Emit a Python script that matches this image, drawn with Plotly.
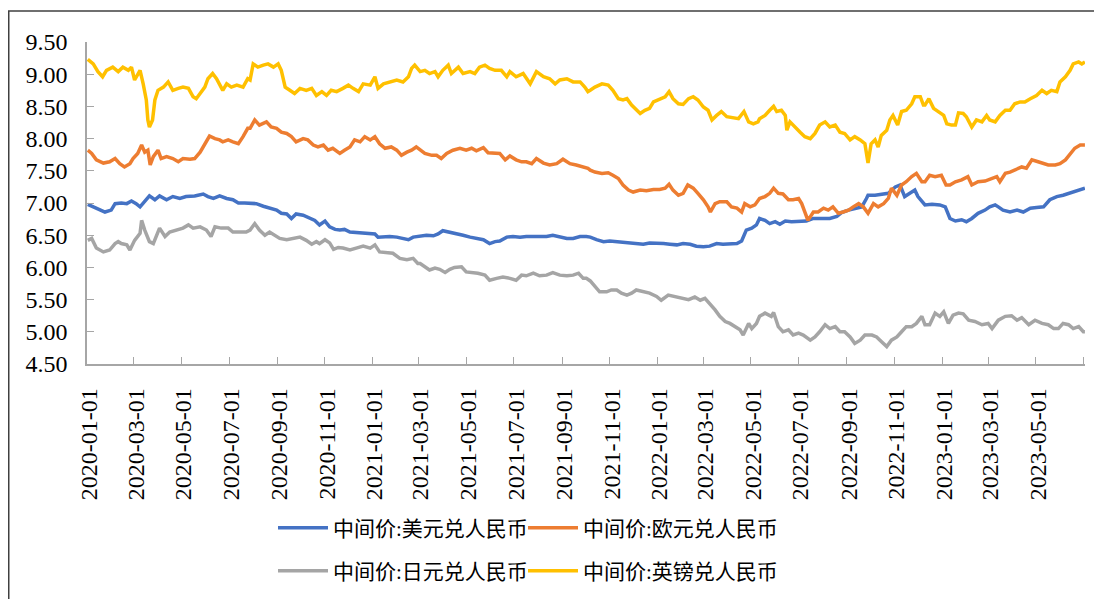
import pandas as pd
import plotly.graph_objects as go

# Day offsets are counted from 2020-01-01
BASE_DATE = "2020-01-01"

usd_days = [1, 8, 16, 23, 31, 36, 44, 51, 57, 63, 68, 74, 80, 87, 93, 102, 110, 119, 127, 138,
            149, 155, 162, 170, 179, 187, 194, 202,
            209, 217, 226, 234, 243, 249, 256, 262, 268, 277, 286, 292, 298, 305, 311, 318, 324, 330,
            337, 345, 354, 363, 369, 373, 380, 388, 397, 405, 412, 418, 424,
            427, 435, 444, 450, 456, 465, 474, 482, 491, 499, 508, 516, 523, 529, 538, 546, 555, 563,
            572, 580, 589, 597, 606, 615, 623, 632, 640,
            645, 653, 662, 670, 679, 687, 696, 704, 713, 721, 730, 739, 747, 756, 764, 773, 781, 790,
            798, 807, 815, 824, 833, 839, 845, 852, 858,
            862, 869, 875, 882, 888, 895, 903, 914, 922, 931, 942, 952, 961, 967, 976, 984, 993, 999,
            1001, 1010, 1018, 1027, 1036, 1042, 1048, 1055, 1061, 1065, 1072,
            1074, 1083, 1093, 1100, 1106, 1113, 1121, 1127, 1134, 1142, 1151, 1157, 1164, 1168, 1174,
            1183, 1192, 1200, 1209, 1217, 1226, 1234, 1243, 1251, 1258, 1264, 1271, 1279]
usd_vals = [6.98, 6.94, 6.89, 6.86, 6.89, 6.99, 7.00, 6.99, 7.03, 6.99, 6.94, 7.02, 7.11, 7.05, 7.11,
            7.05, 7.10, 7.07, 7.10, 7.11, 7.14, 7.10, 7.07, 7.11, 7.07, 7.05, 7.00, 7.00,
            7.00, 6.99, 6.95, 6.92, 6.89, 6.84, 6.83, 6.76, 6.83, 6.81, 6.76, 6.73, 6.66, 6.72, 6.63,
            6.59, 6.58, 6.59, 6.55, 6.54, 6.54, 6.53, 6.52, 6.47, 6.48, 6.48, 6.47, 6.45, 6.43, 6.47, 6.48,
            6.48, 6.50, 6.49, 6.52, 6.57, 6.55, 6.52, 6.50, 6.47, 6.45, 6.43, 6.37, 6.40, 6.41, 6.47,
            6.48, 6.47, 6.48, 6.48, 6.49, 6.48, 6.50, 6.48, 6.45, 6.45, 6.48, 6.48,
            6.47, 6.43, 6.40, 6.41, 6.40, 6.40, 6.38, 6.37, 6.36, 6.38, 6.38, 6.37, 6.36, 6.35, 6.37,
            6.36, 6.33, 6.32, 6.33, 6.37, 6.36, 6.37, 6.37, 6.41, 6.58, 6.61, 6.66,
            6.76, 6.73, 6.68, 6.71, 6.67, 6.72, 6.71, 6.71, 6.72, 6.76, 6.76, 6.76, 6.79, 6.85, 6.89,
            6.92, 6.94, 7.07, 7.12, 7.12, 7.13, 7.15, 7.25, 7.28, 7.10, 7.15, 7.20, 7.10, 6.99,
            6.97, 6.98, 6.97, 6.94, 6.76, 6.72, 6.74, 6.71, 6.76, 6.84, 6.89, 6.94, 6.97, 6.94, 6.89,
            6.86, 6.89, 6.86, 6.92, 6.93, 6.94, 7.05, 7.10, 7.12, 7.15, 7.17, 7.21, 7.23]

eur_days = [1, 6, 12, 21, 29, 36, 42, 48, 55, 59, 65, 70, 74, 78, 81, 85, 91, 95, 102, 110,
            117, 123, 132, 138, 145, 151, 157, 164, 170, 174, 181, 187, 194, 200, 206,
            209, 215, 221, 230, 236, 243, 249, 256, 262, 268, 277, 283, 290, 296, 303, 309, 315, 324,
            330, 337, 343, 350, 356, 363, 369, 375, 382, 390, 397, 403, 410, 416, 422,
            427, 433, 442, 448, 454, 461, 469, 478, 486, 493, 499, 508, 514, 521, 529, 536, 542, 550,
            557, 563, 570, 576, 585, 593, 602, 610, 619, 627, 636, 642,
            645, 651, 660, 668, 674, 681, 687, 694, 700, 709, 717, 726, 734, 741, 746, 751, 758, 764,
            770, 777, 783, 790, 796, 799, 805, 811, 820, 826, 833, 839, 843, 850, 856,
            862, 869, 875, 880, 886, 892, 899, 905, 912, 916, 920, 924, 931, 937, 944, 950, 956, 963,
            969, 976, 982, 989, 995, 1001, 1008, 1014, 1021, 1027, 1031, 1038, 1044, 1050, 1057, 1063, 1070,
            1074, 1080, 1087, 1095, 1101, 1106, 1113, 1121, 1129, 1134, 1142, 1151, 1160, 1166, 1170,
            1177, 1183, 1189, 1198, 1204, 1211, 1219, 1226, 1232, 1241, 1247, 1254, 1260, 1266, 1273, 1279]
eur_vals = [7.82, 7.77, 7.67, 7.62, 7.64, 7.69, 7.61, 7.56, 7.61, 7.69, 7.77, 7.90, 7.79, 7.82, 7.59,
            7.72, 7.82, 7.69, 7.72, 7.69, 7.64, 7.69, 7.68, 7.69, 7.79, 7.92, 8.04, 8.00, 7.98, 7.95,
            7.98, 7.95, 7.92, 8.03, 8.16,
            8.16, 8.29, 8.21, 8.26, 8.18, 8.16, 8.10, 8.08, 8.03, 7.95, 8.00, 7.98, 7.90, 7.87, 7.90,
            7.82, 7.85, 7.77, 7.82, 7.87, 7.98, 7.95, 8.03, 7.98, 8.03, 7.92, 7.85, 7.87, 7.82, 7.74,
            7.79, 7.82, 7.87,
            7.82, 7.77, 7.74, 7.74, 7.69, 7.77, 7.82, 7.85, 7.82, 7.85, 7.81, 7.86, 7.78, 7.77, 7.77,
            7.67, 7.73, 7.67, 7.64, 7.64, 7.61, 7.69, 7.62, 7.59, 7.61, 7.68, 7.61, 7.59, 7.56, 7.54,
            7.51, 7.48, 7.46, 7.47, 7.43, 7.38, 7.28, 7.20, 7.17, 7.20, 7.19, 7.21, 7.21, 7.23, 7.29,
            7.20, 7.12, 7.15, 7.28, 7.23, 7.15, 7.05, 6.94, 6.86, 6.99, 7.02, 7.02, 6.94, 6.92, 6.86,
            6.99, 6.94, 6.97,
            7.07, 7.10, 7.15, 7.23, 7.15, 7.14, 7.05, 7.05, 7.07, 6.99, 6.84, 6.73, 6.86, 6.86, 6.92,
            6.89, 6.94, 6.84, 6.86, 6.89, 6.94, 6.99, 6.94, 6.84, 6.99, 6.94, 6.99, 7.07, 7.23, 7.12,
            7.28, 7.33, 7.41, 7.46, 7.33,
            7.33, 7.43, 7.41, 7.43, 7.28, 7.28, 7.33, 7.36, 7.41, 7.28, 7.33, 7.34, 7.38, 7.41, 7.33,
            7.46, 7.48, 7.51, 7.56, 7.54, 7.67, 7.64, 7.61, 7.59, 7.59, 7.61, 7.67, 7.77, 7.85, 7.90, 7.90]

jpy_days = [1, 6, 12, 21, 29, 36, 40, 44, 51, 55, 61, 68, 70, 74, 80, 85, 93, 100, 106, 115,
            123, 130, 136, 145, 153, 159, 164, 172, 181, 187, 196, 204,
            209, 215, 221, 228, 234, 241, 247, 256, 264, 273, 281, 288, 294, 298, 305, 311, 316, 322,
            328, 337, 345, 354, 363, 369, 375, 384, 392, 401, 410, 418, 424,
            427, 433, 439, 446, 452, 459, 465, 471, 480, 486, 493, 501, 510, 516, 525, 533, 542, 550,
            557, 563, 572, 580, 589, 597, 606, 615, 623, 630, 636, 640,
            645, 651, 657, 666, 672, 679, 685, 692, 698, 704, 713, 721, 730, 736, 745, 754, 762, 771,
            779, 786, 792, 798, 805, 811, 818, 824, 830, 837, 841, 848, 852, 858,
            862, 869, 877, 880, 886, 892, 899, 905, 912, 918, 927, 933, 939, 946, 952, 959, 965, 971,
            978, 984, 991, 997, 1006, 1012, 1018, 1025, 1031, 1038, 1044, 1050, 1057, 1063, 1070,
            1074, 1080, 1087, 1093, 1098, 1104, 1110, 1117, 1123, 1130, 1138, 1147, 1155, 1160, 1168,
            1177, 1185, 1192, 1198, 1207, 1215, 1224, 1232, 1239, 1245, 1251, 1258, 1264, 1271, 1277, 1279]
jpy_vals = [6.42, 6.45, 6.30, 6.24, 6.27, 6.37, 6.40, 6.37, 6.35, 6.27, 6.42, 6.53, 6.73, 6.58, 6.40,
            6.37, 6.61, 6.48, 6.55, 6.58, 6.61, 6.66, 6.61, 6.63, 6.58, 6.48, 6.63, 6.61, 6.61, 6.55,
            6.55, 6.55,
            6.58, 6.68, 6.58, 6.50, 6.55, 6.50, 6.45, 6.43, 6.45, 6.47, 6.42, 6.36, 6.40, 6.37, 6.43,
            6.38, 6.28, 6.31, 6.30, 6.27, 6.30, 6.33, 6.30, 6.35, 6.24, 6.23, 6.22, 6.14, 6.12, 6.14, 6.06,
            6.06, 6.01, 5.96, 5.99, 5.97, 5.92, 5.97, 6.00, 6.01, 5.93, 5.92, 5.91, 5.88, 5.80, 5.83,
            5.85, 5.83, 5.80, 5.88, 5.87, 5.91, 5.87, 5.88, 5.92, 5.88, 5.87, 5.88, 5.91, 5.83, 5.83,
            5.79, 5.70, 5.62, 5.62, 5.65, 5.65, 5.60, 5.57, 5.60, 5.65, 5.62, 5.60, 5.55, 5.49, 5.57,
            5.55, 5.52, 5.50, 5.54, 5.49, 5.52, 5.44, 5.34, 5.24, 5.16, 5.13, 5.08, 5.03, 4.95, 5.13,
            5.05, 5.13,
            5.24, 5.29, 5.24, 5.30, 5.08, 5.00, 5.03, 4.95, 4.98, 4.95, 4.87, 4.92, 5.00, 5.11, 5.05,
            5.08, 5.00, 5.00, 4.92, 4.82, 4.87, 4.95, 4.95, 4.92, 4.85, 4.77, 4.87, 4.92, 5.00, 5.08,
            5.08, 5.13, 5.24,
            5.11, 5.11, 5.29, 5.24, 5.31, 5.13, 5.26, 5.29, 5.28, 5.18, 5.16, 5.11, 5.13, 5.05, 5.18,
            5.24, 5.25, 5.18, 5.22, 5.11, 5.18, 5.13, 5.11, 5.05, 5.05, 5.13, 5.11, 5.05, 5.08, 5.00, 5.00]

gbp_days = [1, 8, 14, 20, 25, 33, 40, 46, 53, 57, 61, 68, 72, 76, 78, 80, 84, 87, 91, 98,
            104, 110, 117, 123, 130, 136, 140, 145, 151, 155, 161, 166, 170, 174, 179, 185, 192, 200, 206,
            209, 213, 219, 226, 232, 239, 245, 249, 254, 260, 266, 273, 281, 288, 294, 301, 307, 313,
            320, 328, 335, 341, 348, 354, 363, 369, 373, 380, 388, 397, 405, 412, 416, 420,
            427, 433, 439, 446, 450, 456, 463, 467, 476, 482, 491, 497, 503, 510, 516, 523, 531, 538,
            542, 550, 559, 568, 576, 585, 593, 600, 606, 615, 623, 632, 638, 642,
            645, 651, 660, 668, 674, 681, 687, 692, 698, 704, 709, 715, 721, 726, 734, 741, 746, 751,
            758, 764, 771, 777, 783, 790, 796, 801, 807, 813, 820, 826, 835, 842, 848, 854, 860,
            862, 869, 875, 880, 884, 890, 895, 897, 901, 907, 914, 920, 927, 933, 939, 946, 952, 959,
            965, 971, 978, 984, 991, 997, 999, 1001, 1005, 1010, 1014, 1018, 1025, 1029, 1033, 1039,
            1044, 1050, 1057, 1061, 1068, 1072,
            1074, 1079, 1085, 1091, 1098, 1102, 1108, 1113, 1117, 1123, 1127, 1134, 1140, 1147, 1153,
            1157, 1164, 1170, 1177, 1183, 1189, 1196, 1202, 1209, 1217, 1224, 1230, 1236, 1243, 1247,
            1254, 1260, 1264, 1271, 1275, 1279]
gbp_vals = [9.23, 9.16, 9.04, 8.96, 9.06, 9.11, 9.04, 9.11, 9.06, 9.11, 8.91, 9.06, 8.85, 8.60, 8.29,
            8.18, 8.29, 8.60, 8.75, 8.80, 8.88, 8.75, 8.78, 8.80, 8.78, 8.65, 8.62, 8.70, 8.80, 8.93,
            9.01, 8.93, 8.85, 8.75, 8.85, 8.80, 8.83, 8.80, 8.93,
            8.91, 9.16, 9.11, 9.14, 9.16, 9.11, 9.16, 9.06, 8.80, 8.75, 8.70, 8.78, 8.75, 8.78, 8.67,
            8.73, 8.67, 8.75, 8.73, 8.78, 8.83, 8.78, 8.73, 8.85, 8.83, 8.96, 8.78, 8.85, 8.88, 8.91,
            8.88, 8.96, 9.09, 9.14,
            9.04, 9.06, 9.01, 9.04, 8.96, 9.06, 9.14, 9.01, 9.11, 9.01, 9.04, 9.01, 9.11, 9.14, 9.09,
            9.06, 9.06, 8.96, 9.04, 8.96, 9.01, 8.85, 9.04, 8.96, 8.93, 8.85, 8.91, 8.93, 8.88, 8.88,
            8.80, 8.73,
            8.75, 8.80, 8.85, 8.83, 8.75, 8.62, 8.60, 8.62, 8.52, 8.44, 8.39, 8.44, 8.47, 8.57, 8.62,
            8.65, 8.73, 8.62, 8.54, 8.53, 8.62, 8.65, 8.60, 8.49, 8.44, 8.29, 8.36, 8.42, 8.34, 8.33,
            8.31, 8.42, 8.26, 8.23, 8.26,
            8.31, 8.36, 8.44, 8.50, 8.42, 8.44, 8.36, 8.13, 8.26, 8.18, 8.10, 8.03, 8.00, 8.08, 8.21,
            8.26, 8.18, 8.21, 8.10, 8.08, 7.98, 8.03, 7.98, 7.92, 7.77, 7.62, 7.92, 7.98, 7.87, 8.05,
            8.13, 8.29, 8.36, 8.21, 8.42, 8.44, 8.54, 8.65, 8.65, 8.52,
            8.52, 8.62, 8.47, 8.42, 8.36, 8.23, 8.21, 8.21, 8.40, 8.39, 8.34, 8.18, 8.29, 8.26, 8.36,
            8.29, 8.26, 8.36, 8.44, 8.44, 8.54, 8.57, 8.57, 8.62, 8.67, 8.75, 8.70, 8.75, 8.73, 8.88,
            8.96, 9.06, 9.16, 9.19, 9.16, 9.19]

series_names = ["中间价:美元兑人民币", "中间价:欧元兑人民币", "中间价:日元兑人民币", "中间价:英镑兑人民币"]
series_colors = ["#4472C4", "#ED7D31", "#A5A5A5", "#FFC000"]

tick_dates = ["2020-01-01", "2020-03-01", "2020-05-01", "2020-07-01", "2020-09-01", "2020-11-01",
              "2021-01-01", "2021-03-01", "2021-05-01", "2021-07-01", "2021-09-01", "2021-11-01",
              "2022-01-01", "2022-03-01", "2022-05-01", "2022-07-01", "2022-09-01", "2022-11-01",
              "2023-01-01", "2023-03-01", "2023-05-01", "2023-07-01"]
tick_labels = tick_dates[:-1] + [""]

y_min, y_max, y_step = 4.5, 9.5, 0.5


def to_dates(days):
    return pd.Timestamp(BASE_DATE) + pd.to_timedelta(days, unit="D")


all_days = [usd_days, eur_days, jpy_days, gbp_days]
all_vals = [usd_vals, eur_vals, jpy_vals, gbp_vals]
legend_ids = ["legend", "legend2", "legend3", "legend4"]

fig = go.Figure()
for name, days, vals, color, leg in zip(series_names, all_days, all_vals, series_colors, legend_ids):
    fig.add_trace(go.Scatter(
        x=to_dates(days), y=vals, mode="lines", name=name,
        line=dict(color=color, width=3.5), legend=leg,
    ))

W, H = 1102, 599
# the page body adds an 8px offset; layout below is expressed in figure pixels
ML, MR, MT, MB = 79, 25, 34, 243
pw, ph = W - ML - MR, H - MT - MB

serif = "Liberation Serif, DejaVu Serif, serif"
tick_font = dict(family=serif, size=24, color="black")
leg_font = dict(family="Liberation Serif, Noto Sans CJK SC", size=21, color="black")
axis_grey = "#A6A6A6"


def px_to_paper_x(px):
    return (px - ML) / pw


def px_to_paper_y(py):
    return (H - MB - py) / ph


legend_common = dict(
    orientation="h", xref="container", yref="container",
    xanchor="left", yanchor="middle",
    font=leg_font, itemwidth=50,
    bgcolor="rgba(0,0,0,0)", borderwidth=0,
)
col_x = [265 / W, 515 / W]
row_y = [1 - 520 / H, 1 - 563 / H]

fig.update_layout(
    width=W, height=H,
    margin=dict(l=ML, r=MR, t=MT, b=MB, autoexpand=False),
    paper_bgcolor="white", plot_bgcolor="white",
    font=dict(family=serif, color="black"),
    showlegend=True,
    xaxis=dict(
        type="date",
        range=[pd.Timestamp(BASE_DATE), pd.Timestamp(BASE_DATE) + pd.Timedelta(days=1279.1)],
        tickmode="array", tickvals=tick_dates, ticktext=tick_labels,
        tickangle=-90, tickfont=tick_font,
        ticks="inside", ticklen=7, tickwidth=1.3, tickcolor=axis_grey,
        showline=True, linecolor=axis_grey, linewidth=1.5,
        showgrid=False, zeroline=False,
        ticklabelshift=2, ticklabelstandoff=13,
    ),
    yaxis=dict(
        range=[y_min, y_max], tick0=y_min, dtick=y_step, tickformat=".2f",
        tickfont=tick_font,
        ticks="inside", ticklen=7, tickwidth=1.3, tickcolor=axis_grey,
        showline=True, linecolor=axis_grey, linewidth=1.5,
        showgrid=False, zeroline=False,
        ticklabelstandoff=13,
    ),
    legend=dict(legend_common, x=col_x[0], y=row_y[0]),
    legend2=dict(legend_common, x=col_x[1], y=row_y[0]),
    legend3=dict(legend_common, x=col_x[0], y=row_y[1]),
    legend4=dict(legend_common, x=col_x[1], y=row_y[1]),
    shapes=[dict(
        type="rect", xref="paper", yref="paper",
        x0=px_to_paper_x(0.75), x1=px_to_paper_x(1120),
        y0=px_to_paper_y(620), y1=px_to_paper_y(3),
        line=dict(color="#404040", width=1.5), fillcolor="rgba(0,0,0,0)", layer="below",
    )],
)

fig.write_html("out.html")
